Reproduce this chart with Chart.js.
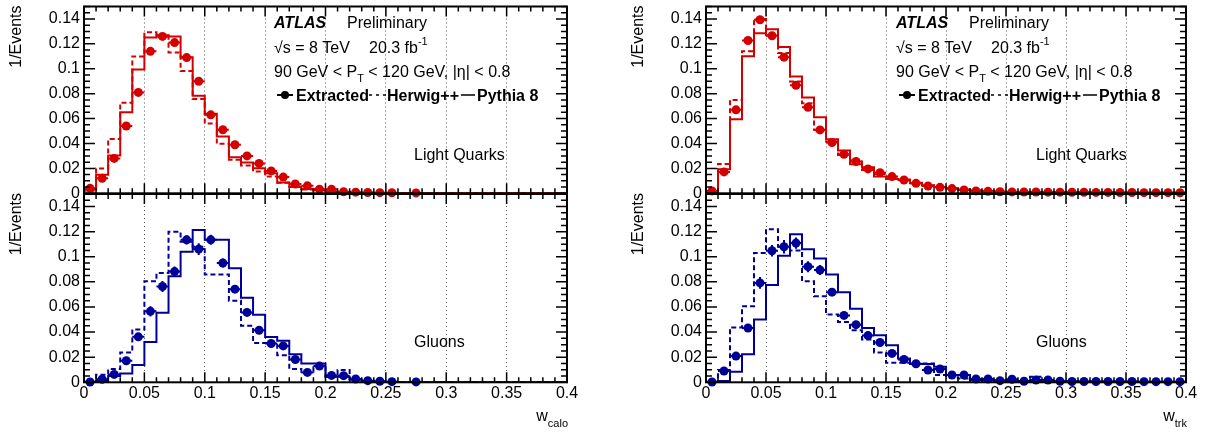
<!DOCTYPE html>
<html>
<head>
<meta charset="utf-8">
<script src="https://cdn.jsdelivr.net/npm/chart.js@4.4.0/dist/chart.umd.min.js"></script>
<style>
  html, body { margin: 0; padding: 0; background: #fff; }
  #wrap { position: relative; width: 1205px; height: 432px; }
  #wrap canvas { position: absolute; left: 0; top: 0; }
</style>
</head>
<body>
<div id="wrap">
  <canvas id="caloQ" width="1205" height="432"></canvas>
  <canvas id="caloG" width="1205" height="432"></canvas>
  <canvas id="trkQ" width="1205" height="432"></canvas>
  <canvas id="trkG" width="1205" height="432"></canvas>
</div>
<script>
const binWidth = 0.01;
const xTicks = [0, 0.05, 0.1, 0.15, 0.2, 0.25, 0.3, 0.35, 0.4];
const yTicks = [0, 0.02, 0.04, 0.06, 0.08, 0.1, 0.12, 0.14];

// w_calo, light quarks
const caloQuarkExtracted = [0.004, 0.012, 0.028, 0.054, 0.081, 0.114, 0.126, 0.121, 0.109, 0.090, 0.063, 0.051, 0.039, 0.030, 0.024, 0.018, 0.013, 0.0075, 0.006, 0.0033, 0.0032, 0.0012, 0.0009, 0.0006, 0.0005, 0.0004, null, 0.0003];
const caloQuarkErr = [0.001, 0.001, 0.001, 0.0015, 0.002, 0.002, 0.002, 0.002, 0.002, 0.002, 0.0015, 0.0015, 0.001, 0.001, 0.001, 0.001, 0.001, 0.001, 0.001, 0.0005, 0.0005, 0.0005, 0.0005, 0.0005, 0.0005, 0.0005, 0, 0.0005];
const caloQuarkHerwig = [0.002, 0.020, 0.0436, 0.0727, 0.1099, 0.1293, 0.1275, 0.113, 0.0983, 0.0757, 0.056, 0.0398, 0.027, 0.0223, 0.0175, 0.0135, 0.0085, 0.005, 0.003, 0.002, 0.0012, 0.0008, 0.0005, 0.0003, 0.0002, 0.0001, 0.0001, 0, 0, 0, 0, 0, 0, 0, 0, 0, 0, 0, 0, 0];
const caloQuarkPythia = [0.003, 0.0148, 0.0304, 0.065, 0.0994, 0.1252, 0.127, 0.126, 0.1093, 0.0784, 0.0638, 0.0456, 0.029, 0.0247, 0.0202, 0.0162, 0.0086, 0.0055, 0.0035, 0.0025, 0.0015, 0.001, 0.0006, 0.0004, 0.0003, 0.0002, 0.0001, 0.0001, 0, 0, 0, 0, 0, 0, 0, 0, 0, 0, 0, 0];

// w_calo, gluons
const caloGluonExtracted = [0.0002, 0.0024, 0.0063, 0.0172, 0.0362, 0.0565, 0.0763, 0.0882, 0.1135, 0.1061, 0.1135, 0.095, 0.0742, 0.0557, 0.0414, 0.0309, 0.029, 0.0182, 0.0079, 0.0129, 0.0055, 0.0053, 0.0026, 0.0013, 0.0008, 0.0005, null, 0.0003];
const caloGluonErr = [0.0005, 0.001, 0.0015, 0.002, 0.003, 0.004, 0.0044, 0.004, 0.0037, 0.0046, 0.004, 0.0036, 0.003, 0.003, 0.0025, 0.002, 0.002, 0.002, 0.0015, 0.0015, 0.001, 0.001, 0.001, 0.0005, 0.0005, 0.0005, 0, 0.0005];
const caloGluonHerwig = [0.0005, 0.006, 0.0105, 0.0238, 0.042, 0.0805, 0.087, 0.12, 0.112, 0.108, 0.0858, 0.0858, 0.065, 0.045, 0.0314, 0.0314, 0.0216, 0.0106, 0.0084, 0.012, 0.0045, 0.0098, 0.0026, 0.001, 0.0005, 0.0002, 0, 0, 0, 0, 0, 0, 0, 0, 0, 0, 0, 0, 0, 0];
const caloGluonPythia = [0.0003, 0.001, 0.005, 0.007, 0.0137, 0.0322, 0.0554, 0.0845, 0.104, 0.1214, 0.1135, 0.1135, 0.0908, 0.0673, 0.0539, 0.036, 0.033, 0.0224, 0.015, 0.015, 0.0045, 0.0045, 0.002, 0.001, 0.0005, 0.0003, 0.0001, 0, 0, 0, 0, 0, 0, 0, 0, 0, 0, 0, 0, 0];

// w_trk, light quarks
const trkQuarkExtracted = [0.0019, 0.0172, 0.067, 0.1227, 0.1394, 0.1265, 0.1093, 0.0868, 0.0691, 0.0509, 0.0407, 0.0314, 0.0255, 0.0196, 0.0166, 0.0134, 0.0107, 0.008, 0.0059, 0.0048, 0.0038, 0.0027, 0.0019, 0.0016, 0.0012, 0.0011, 0.001, 0.001, 0.0009, 0.0009, 0.0008, 0.0008, 0.0007, 0.0007, 0.0006, 0.0006, 0.0005, 0.0005, 0.0005, 0.0004];
const trkQuarkErr = [0.0005, 0.001, 0.0015, 0.002, 0.002, 0.002, 0.002, 0.0015, 0.0015, 0.0015, 0.001, 0.001, 0.001, 0.001, 0.001, 0.001, 0.001, 0.001, 0.0005, 0.0005, 0.0005, 0.0005, 0.0005, 0.0005, 0.0005, 0.0005, 0.0005, 0.0005, 0.0005, 0.0005, 0.0005, 0.0005, 0.0005, 0.0005, 0.0005, 0.0005, 0.0005, 0.0005, 0.0005, 0.0005];
const trkQuarkHerwig = [0.004, 0.0236, 0.075, 0.114, 0.140, 0.127, 0.1126, 0.0898, 0.0724, 0.051, 0.0415, 0.0308, 0.0268, 0.0188, 0.0155, 0.012, 0.0105, 0.0085, 0.0062, 0.005, 0.004, 0.003, 0.0022, 0.0017, 0.0014, 0.0012, 0.001, 0.001, 0.0009, 0.0008, 0.0008, 0.0007, 0.0007, 0.0006, 0.0006, 0.0005, 0.0005, 0.0005, 0.0004, 0.0004];
const trkQuarkPythia = [0.0013, 0.0193, 0.0595, 0.110, 0.1286, 0.1318, 0.1174, 0.0938, 0.0769, 0.0611, 0.0434, 0.0343, 0.0233, 0.021, 0.0135, 0.0115, 0.011, 0.008, 0.0065, 0.005, 0.0038, 0.003, 0.0022, 0.0017, 0.0013, 0.0011, 0.001, 0.001, 0.0009, 0.0008, 0.0008, 0.0007, 0.0007, 0.0006, 0.0006, 0.0005, 0.0005, 0.0005, 0.0004, 0.0004];

// w_trk, gluons
const trkGluonExtracted = [0.0002, 0.009, 0.0209, 0.0433, 0.0792, 0.1048, 0.108, 0.1109, 0.0921, 0.0895, 0.0718, 0.0533, 0.0459, 0.0372, 0.0317, 0.023, 0.0182, 0.0148, 0.0098, 0.0106, 0.0058, 0.0058, 0.0026, 0.0026, 0.0013, 0.0024, 0.0008, 0.0018, 0.0018, 0.0008, 0.0006, 0.0006, 0.0006, 0.0006, 0.0006, 0.0006, 0.0005, 0.0005, 0.0005, 0.0005];
const trkGluonErr = [0.0005, 0.0015, 0.002, 0.003, 0.0047, 0.0046, 0.0053, 0.0045, 0.0044, 0.004, 0.003, 0.0025, 0.0025, 0.002, 0.002, 0.002, 0.0015, 0.0015, 0.0015, 0.0015, 0.001, 0.001, 0.001, 0.001, 0.001, 0.001, 0.001, 0.001, 0.001, 0.0005, 0.0005, 0.0005, 0.0005, 0.0005, 0.0005, 0.0005, 0.0005, 0.0005, 0.0005, 0.0005];
const trkGluonHerwig = [0.0005, 0.0098, 0.0436, 0.0605, 0.103, 0.122, 0.108, 0.105, 0.0805, 0.0686, 0.0541, 0.048, 0.0414, 0.034, 0.0238, 0.0156, 0.0156, 0.015, 0.015, 0.0058, 0.004, 0.003, 0.002, 0.002, 0.0015, 0.001, 0.001, 0.0045, 0.001, 0.0008, 0.0006, 0.0005, 0.0005, 0.0004, 0.0004, 0.0003, 0.0003, 0.0003, 0.0003, 0.0003];
const trkGluonPythia = [0, 0.001, 0.0085, 0.0224, 0.05, 0.0776, 0.1008, 0.118, 0.106, 0.0987, 0.0858, 0.0718, 0.0586, 0.0433, 0.0375, 0.0296, 0.019, 0.0145, 0.0145, 0.0124, 0.0058, 0.0058, 0.0018, 0.0015, 0.0012, 0.001, 0.0008, 0.0008, 0.0007, 0.0006, 0.0006, 0.0005, 0.0005, 0.0004, 0.0004, 0.0004, 0.0003, 0.0003, 0.0003, 0.0003];

const RED = '#d40000';
const BLUE = '#000099';
const FONT = "'Liberation Sans', Arial, Helvetica, sans-serif";

// bin contents -> step outline (low edges plus the last upper edge)
function histPoints(vals) {
  const pts = [{x: 0, y: 0}];
  vals.forEach((v, i) => pts.push({x: i * binWidth, y: v}));
  pts.push({x: vals.length * binWidth, y: vals[vals.length - 1]});
  return pts;
}
function markerPoints(vals, errs) {
  const pts = [];
  vals.forEach((v, i) => { if (v !== null) pts.push({x: (i + 0.5) * binWidth, y: v, e: errs[i] || 0}); });
  return pts;
}
function fmt(v) { return String(+Number(v).toFixed(3)); }

// draw a run of text pieces (for sub/superscripts)
function rich(ctx, parts, x, y) {
  parts.forEach(p => {
    ctx.font = (p.style || '') + ' ' + (p.weight || 'normal') + ' ' + (p.size || 16) + 'px ' + FONT;
    ctx.fillText(p.t, x, y + (p.dy || 0));
    x += ctx.measureText(p.t).width;
  });
  return x;
}
function richWidth(ctx, parts) {
  let w = 0;
  parts.forEach(p => {
    ctx.font = (p.style || '') + ' ' + (p.weight || 'normal') + ' ' + (p.size || 16) + 'px ' + FONT;
    w += ctx.measureText(p.t).width;
  });
  return w;
}

const rootFrame = {
  id: 'rootFrame',
  afterDatasetsDraw(chart) {
    const {ctx, scales: {x, y}} = chart;
    chart.data.datasets.forEach((ds, di) => {
      if (!ds.errorBars) return;
      const meta = chart.getDatasetMeta(di);
      ctx.save();
      ctx.strokeStyle = ds.borderColor;
      ctx.lineWidth = 2;
      ds.data.forEach((p, i) => {
        const el = meta.data[i];
        const x0 = x.getPixelForValue(p.x - binWidth / 2);
        const x1 = x.getPixelForValue(p.x + binWidth / 2);
        const y0 = y.getPixelForValue(Math.max(0, p.y - p.e));
        const y1 = y.getPixelForValue(p.y + p.e);
        ctx.beginPath();
        ctx.moveTo(x0, el.y); ctx.lineTo(x1, el.y);
        ctx.moveTo(el.x, y0); ctx.lineTo(el.x, y1);
        ctx.stroke();
      });
      ctx.restore();
    });
  },
  afterDraw(chart, args, opts) {
    const {ctx, chartArea: a, scales: {x, y}} = chart;
    ctx.save();
    // inward ticks on all four sides
    ctx.strokeStyle = '#000';
    ctx.lineWidth = 1.5;
    ctx.beginPath();
    for (let v = 0; v <= 0.4001; v += 0.01) {
      const px = x.getPixelForValue(v);
      const major = Math.abs(v / 0.05 - Math.round(v / 0.05)) < 1e-6;
      const len = major ? 10 : 5;
      ctx.moveTo(px, a.bottom); ctx.lineTo(px, a.bottom - len);
      ctx.moveTo(px, a.top); ctx.lineTo(px, a.top + len);
    }
    for (let v = 0; v <= 0.1501; v += 0.005) {
      const py = y.getPixelForValue(v);
      const major = Math.abs(v / 0.02 - Math.round(v / 0.02)) < 1e-6;
      const len = major ? 11 : 6;
      ctx.moveTo(a.left, py); ctx.lineTo(a.left + len, py);
      ctx.moveTo(a.right, py); ctx.lineTo(a.right - len, py);
    }
    ctx.stroke();
    // frame
    ctx.lineWidth = 2;
    ctx.strokeRect(a.left, a.top, a.right - a.left, a.bottom - a.top);

    ctx.fillStyle = '#000';
    ctx.textBaseline = 'alphabetic';
    ctx.textAlign = 'left';
    const L = a.left;

    if (opts.header) {
      rich(ctx, [{t: 'ATLAS', weight: 'bold', style: 'italic'}], L + 190, 28);
      rich(ctx, [{t: 'Preliminary'}], L + 263, 28);
      rich(ctx, [{t: '\u221As = 8 TeV'}], L + 190, 53);
      rich(ctx, [{t: '20.3 fb'}, {t: '-1', size: 11, dy: -8}], L + 285, 53);
      rich(ctx, [{t: '90 GeV < P'}, {t: 'T', size: 11, dy: 5}, {t: ' < 120 GeV, |\u03B7| < 0.8'}], L + 190, 76.5);
      // legend row
      ctx.strokeStyle = '#000';
      ctx.lineWidth = 2;
      ctx.beginPath();
      ctx.moveTo(L + 193, 95); ctx.lineTo(L + 209, 95);
      ctx.stroke();
      ctx.beginPath();
      ctx.arc(L + 201, 95, 4, 0, Math.PI * 2);
      ctx.fill();
      rich(ctx, [{t: 'Extracted', weight: 'bold'}], L + 212, 100.5);
      ctx.lineWidth = 1.5;
      ctx.setLineDash([3, 4]);
      ctx.beginPath();
      ctx.moveTo(L + 285, 95); ctx.lineTo(L + 302, 95);
      ctx.stroke();
      ctx.setLineDash([]);
      rich(ctx, [{t: 'Herwig++', weight: 'bold'}], L + 303, 100.5);
      ctx.beginPath();
      ctx.moveTo(L + 377, 95); ctx.lineTo(L + 391, 95);
      ctx.stroke();
      rich(ctx, [{t: 'Pythia 8', weight: 'bold'}], L + 393, 100.5);
    }
    if (opts.label) {
      rich(ctx, [{t: opts.label}], L + 330, opts.labelY);
    }
    // y title, rotated, ending at the top
    ctx.save();
    ctx.translate(L - 67, a.top - 1);
    ctx.rotate(-Math.PI / 2);
    ctx.textAlign = 'right';
    ctx.textBaseline = 'middle';
    ctx.font = '16px ' + FONT;
    ctx.fillText('1/Events', 0, 0);
    ctx.restore();
    // x title
    if (opts.xTitle) {
      const parts = [{t: 'w', size: 16}, {t: opts.xTitle, size: 11, dy: 6}];
      const w = richWidth(ctx, parts);
      rich(ctx, parts, a.right + 1 - w, 421);
    }
    ctx.restore();
  }
};

function makePanel(id, p) {
  const font = {family: FONT, size: 16};
  new Chart(document.getElementById(id), {
    type: 'line',
    data: {
      datasets: [
        {label: 'Extracted', type: 'scatter', data: markerPoints(p.extracted, p.err), errorBars: true,
         backgroundColor: p.color, borderColor: p.color, pointRadius: 4.5, pointBorderWidth: 0, showLine: false, clip: false},
        {label: 'Herwig++', data: histPoints(p.herwig), borderColor: p.color, borderWidth: 2,
         borderDash: [5, 3], stepped: 'before', pointRadius: 0, fill: false},
        {label: 'Pythia 8', data: histPoints(p.pythia), borderColor: p.color, borderWidth: 2,
         stepped: 'before', pointRadius: 0, fill: false}
      ]
    },
    options: {
      responsive: false,
      animation: false,
      events: [],
      layout: {padding: p.padding},
      plugins: {
        legend: {display: false},
        tooltip: {enabled: false},
        rootFrame: {header: p.header, label: p.label, labelY: p.labelY, xTitle: p.xTitle}
      },
      scales: {
        x: {
          type: 'linear', min: 0, max: 0.4,
          afterBuildTicks: s => { s.ticks = xTicks.map(v => ({value: v})); },
          afterFit: s => { s.height = p.xTitle ? 30 : 0; s.paddingLeft = 0; s.paddingRight = 0; },
          ticks: {display: !!p.xTitle, padding: 2, font: font, color: '#000', maxRotation: 0, autoSkip: false, callback: fmt},
          grid: {color: '#555', lineWidth: 1, drawTicks: false},
          border: {display: false, dash: [1, 3]}
        },
        y: {
          type: 'linear', min: 0, max: 0.15,
          afterBuildTicks: s => { s.ticks = yTicks.map(v => ({value: v})); },
          afterFit: s => { s.width = 84; s.paddingTop = 0; s.paddingBottom = 0; },
          ticks: {padding: 4, font: font, color: '#000', autoSkip: false, callback: fmt},
          grid: {display: false, drawTicks: false},
          border: {display: false}
        }
      }
    },
    plugins: [rootFrame]
  });
}

const topPad = {top: 6.5, bottom: 432 - 193.3};
const botPad = {top: 194, bottom: 432 - 382.3 - 30};
const leftCol = {left: 0, right: 1205 - 567};
const rightCol = {left: 706 - 84, right: 1205 - 1186};

makePanel('caloQ', {extracted: caloQuarkExtracted, err: caloQuarkErr, herwig: caloQuarkHerwig, pythia: caloQuarkPythia,
  color: RED, padding: Object.assign({}, leftCol, topPad), header: true, label: 'Light Quarks', labelY: 160});
makePanel('caloG', {extracted: caloGluonExtracted, err: caloGluonErr, herwig: caloGluonHerwig, pythia: caloGluonPythia,
  color: BLUE, padding: Object.assign({}, leftCol, botPad), label: 'Gluons', labelY: 347, xTitle: 'calo'});
makePanel('trkQ', {extracted: trkQuarkExtracted, err: trkQuarkErr, herwig: trkQuarkHerwig, pythia: trkQuarkPythia,
  color: RED, padding: Object.assign({}, rightCol, topPad), header: true, label: 'Light Quarks', labelY: 160});
makePanel('trkG', {extracted: trkGluonExtracted, err: trkGluonErr, herwig: trkGluonHerwig, pythia: trkGluonPythia,
  color: BLUE, padding: Object.assign({}, rightCol, botPad), label: 'Gluons', labelY: 347, xTitle: 'trk'});
</script>
</body>
</html>
